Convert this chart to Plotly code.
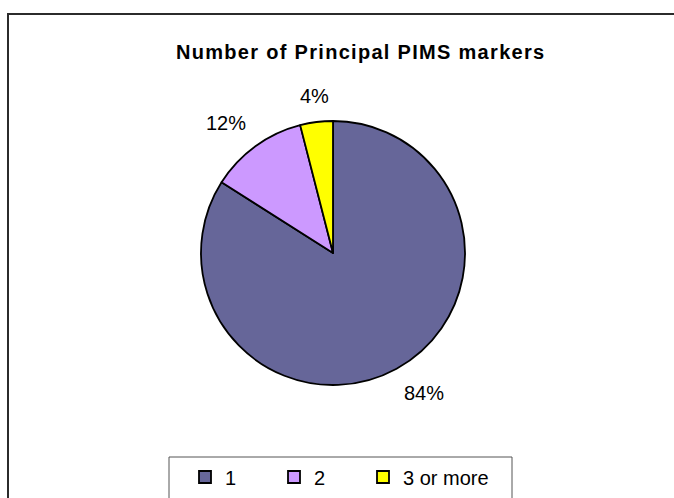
import math
import plotly.graph_objects as go

categories = ["1", "2", "3 or more"]
values = [84, 12, 4]
colors = ["#666699", "#CC99FF", "#FFFF00"]
title_text = "Number of Principal PIMS markers"

W, H = 674, 498
cx, cy, r = 333, 253, 132  # pie centre / radius in px
gap = 14
FONT = "Liberation Sans, Arial, sans-serif"

fig = go.Figure()
fig.add_trace(go.Pie(
    labels=categories, values=values, sort=False, direction="clockwise",
    rotation=0, textinfo="none", hoverinfo="label+percent",
    marker=dict(colors=colors, line=dict(color="#000000", width=1.8)),
    domain=dict(x=[(cx - r) / W, (cx + r) / W], y=[1 - (cy + r) / H, 1 - (cy - r) / H]),
    showlegend=True,
))

# percentage labels around the pie, placed from the data
total = sum(values)
cum = 0
annotations = []
for v in values:
    mid = (cum + v / 2) / total * 2 * math.pi
    cum += v
    s, c = math.sin(mid), math.cos(mid)
    px = cx + (r + gap) * s
    py = cy - (r + gap) * c
    xa = "center" if abs(s) < 0.3 else ("left" if s > 0 else "right")
    ya = "top" if c < 0 else "bottom"
    annotations.append(dict(
        x=px / W, y=1 - py / H, xref="paper", yref="paper",
        text=f"{round(v / total * 100)}%", showarrow=False,
        font=dict(family=FONT, size=20, color="#000000"),
        xanchor=xa, yanchor=ya, borderpad=0))

annotations.append(dict(
    x=360 / W, y=1 - 52 / H, xref="paper", yref="paper",
    text=f"<b><span style='letter-spacing:1.3px'>{title_text}</span></b>",
    showarrow=False, font=dict(family=FONT, size=20, color="#000000"),
    xanchor="center", yanchor="middle"))

shapes = [
    dict(type="rect", xref="paper", yref="paper", x0=8 / W, x1=1.05, y0=-0.05, y1=1 - 14 / H,
         line=dict(color="#2b2b2b", width=2), fillcolor="rgba(0,0,0,0)"),
    dict(type="rect", xref="paper", yref="paper", x0=169 / W, x1=512 / W, y0=-0.05, y1=1 - 457 / H,
         line=dict(color="#555555", width=1), fillcolor="rgba(0,0,0,0)"),
]

fig.update_layout(
    width=W, height=H, margin=dict(l=0, r=0, t=0, b=0),
    paper_bgcolor="white", plot_bgcolor="white",
    annotations=annotations, shapes=shapes,
    legend=dict(orientation="h", x=185 / W, y=1 - 477 / H, xanchor="left", yanchor="middle",
                font=dict(family=FONT, size=20, color="#000000"),
                entrywidth=44, entrywidthmode="pixels", bgcolor="rgba(0,0,0,0)",
                borderwidth=0, itemclick=False, itemdoubleclick=False),
)

post = """
document.body.style.margin='0';
document.querySelectorAll('.legend .scrollbox').forEach(function(e){e.removeAttribute('clip-path');});
"""
fig.write_html("out.html", config={"displayModeBar": False}, post_script=post)
